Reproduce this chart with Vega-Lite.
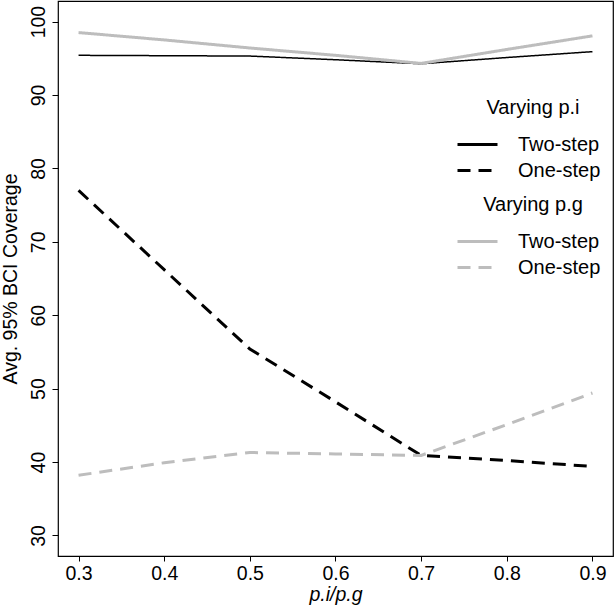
{
  "$schema": "https://vega.github.io/schema/vega-lite/v6.json",
  "autosize": "none",
  "padding": {"left": 58, "top": 1, "right": 2, "bottom": 51},
  "width": 555,
  "height": 555,
  "config": {
    "font": "Liberation Sans",
    "view": {"stroke": "black", "strokeWidth": 1.2},
    "axis": {
      "grid": false,
      "domain": false,
      "tickColor": "black",
      "labelColor": "black",
      "titleColor": "black",
      "labelFontSize": 19.5,
      "titleFontSize": 19.5,
      "titleFontWeight": "normal"
    },
    "legend": {
      "labelFontSize": 20,
      "titleFontSize": 20,
      "titleFontWeight": "normal",
      "labelColor": "black",
      "titleColor": "black"
    }
  },
  "data": {
    "values": [
      {"p": 0.3, "coverage": 95.4, "vary": "p.i", "method": "Two-step"},
      {"p": 0.4, "coverage": 95.35, "vary": "p.i", "method": "Two-step"},
      {"p": 0.5, "coverage": 95.3, "vary": "p.i", "method": "Two-step"},
      {"p": 0.6, "coverage": 94.8, "vary": "p.i", "method": "Two-step"},
      {"p": 0.7, "coverage": 94.25, "vary": "p.i", "method": "Two-step"},
      {"p": 0.8, "coverage": 95.1, "vary": "p.i", "method": "Two-step"},
      {"p": 0.9, "coverage": 95.9, "vary": "p.i", "method": "Two-step"},
      {"p": 0.3, "coverage": 77.0, "vary": "p.i", "method": "One-step"},
      {"p": 0.4, "coverage": 66.2, "vary": "p.i", "method": "One-step"},
      {"p": 0.5, "coverage": 55.4, "vary": "p.i", "method": "One-step"},
      {"p": 0.6, "coverage": 48.2, "vary": "p.i", "method": "One-step"},
      {"p": 0.7, "coverage": 40.9, "vary": "p.i", "method": "One-step"},
      {"p": 0.8, "coverage": 40.2, "vary": "p.i", "method": "One-step"},
      {"p": 0.9, "coverage": 39.4, "vary": "p.i", "method": "One-step"},
      {"p": 0.3, "coverage": 98.5, "vary": "p.g", "method": "Two-step"},
      {"p": 0.4, "coverage": 97.5, "vary": "p.g", "method": "Two-step"},
      {"p": 0.5, "coverage": 96.4, "vary": "p.g", "method": "Two-step"},
      {"p": 0.6, "coverage": 95.4, "vary": "p.g", "method": "Two-step"},
      {"p": 0.7, "coverage": 94.3, "vary": "p.g", "method": "Two-step"},
      {"p": 0.8, "coverage": 96.2, "vary": "p.g", "method": "Two-step"},
      {"p": 0.9, "coverage": 98.05, "vary": "p.g", "method": "Two-step"},
      {"p": 0.3, "coverage": 38.2, "vary": "p.g", "method": "One-step"},
      {"p": 0.4, "coverage": 39.9, "vary": "p.g", "method": "One-step"},
      {"p": 0.5, "coverage": 41.3, "vary": "p.g", "method": "One-step"},
      {"p": 0.6, "coverage": 41.1, "vary": "p.g", "method": "One-step"},
      {"p": 0.7, "coverage": 40.9, "vary": "p.g", "method": "One-step"},
      {"p": 0.8, "coverage": 45.1, "vary": "p.g", "method": "One-step"},
      {"p": 0.9, "coverage": 49.4, "vary": "p.g", "method": "One-step"}
    ]
  },
  "encoding": {
    "x": {
      "field": "p",
      "type": "quantitative",
      "title": "p.i/p.g",
      "scale": {"domain": [0.276, 0.924], "nice": false, "zero": false},
      "axis": {
        "values": [0.3, 0.4, 0.5, 0.6, 0.7, 0.8, 0.9],
        "format": ".1f",
        "tickSize": 5,
        "labelPadding": 3,
        "titlePadding": 3,
        "titleFontStyle": "italic"
      }
    },
    "y": {
      "field": "coverage",
      "type": "quantitative",
      "title": "Avg. 95% BCI Coverage",
      "scale": {"domain": [27.2, 102.8], "nice": false, "zero": false},
      "axis": {
        "values": [30, 40, 50, 60, 70, 80, 90, 100],
        "tickSize": 6,
        "labelAngle": 270,
        "labelAlign": "center",
        "labelBaseline": "alphabetic",
        "labelPadding": 8,
        "titlePadding": 8
      }
    }
  },
  "layer": [
    {
      "transform": [{"filter": "datum.vary == 'p.i'"}],
      "mark": {"type": "line", "color": "black"},
      "encoding": {
        "strokeDash": {
          "field": "method",
          "type": "nominal",
          "scale": {"domain": ["Two-step", "One-step"], "range": [[1, 0], [13, 8]]},
          "legend": {
            "title": "Varying p.i",
            "orient": "none",
            "legendX": 408,
            "legendY": 97,
            "titleAnchor": "middle",
            "titlePadding": 15,
            "symbolType": "M-2,0H2",
            "symbolSize": 400,
            "symbolStrokeColor": "black",
            "symbolStrokeWidth": 3,
            "labelOffset": 29,
            "rowPadding": 4
          }
        },
        "strokeWidth": {
          "field": "method",
          "type": "nominal",
          "scale": {"domain": ["Two-step", "One-step"], "range": [1.5, 3]},
          "legend": null
        }
      }
    },
    {
      "transform": [{"filter": "datum.vary == 'p.g'"}],
      "mark": {"type": "line", "color": "#bdbdbd", "strokeWidth": 3},
      "encoding": {
        "strokeDash": {
          "field": "method",
          "type": "nominal",
          "scale": {"domain": ["Two-step", "One-step"], "range": [[1, 0], [13, 8]]},
          "legend": {
            "title": "Varying p.g",
            "orient": "none",
            "legendX": 408,
            "legendY": 194,
            "titleAnchor": "middle",
            "titlePadding": 15,
            "symbolType": "M-2,0H2",
            "symbolSize": 400,
            "symbolStrokeColor": "#bdbdbd",
            "symbolStrokeWidth": 3,
            "labelOffset": 29,
            "rowPadding": 4
          }
        }
      }
    }
  ],
  "resolve": {
    "scale": {"strokeDash": "independent"},
    "legend": {"strokeDash": "independent"}
  }
}
